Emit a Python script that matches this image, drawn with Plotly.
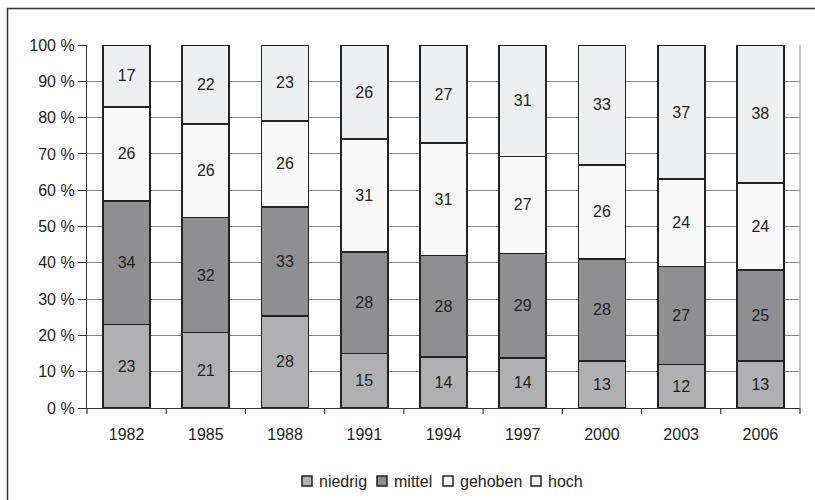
import plotly.graph_objects as go

years = ["1982", "1985", "1988", "1991", "1994", "1997", "2000", "2003", "2006"]
niedrig = [23, 21, 28, 15, 14, 14, 13, 12, 13]
mittel = [34, 32, 33, 28, 28, 29, 28, 27, 25]
gehoben = [26, 26, 26, 31, 31, 27, 26, 24, 24]
hoch = [17, 22, 23, 26, 27, 31, 33, 37, 38]

names = ["niedrig", "mittel", "gehoben", "hoch"]
values = [niedrig, mittel, gehoben, hoch]
colors = ["#b0b0b3", "#8f8f92", "#f8f8f8", "#eeeff1"]

W, H = 815, 500
L, R, T, B = 87, 15, 45, 92
PW, PH = W - L - R, H - T - B


def px_x(p):
    return (p - L) / PW


def px_y(p):
    return (H - B - p) / PH


FONT = "Liberation Sans, Arial, sans-serif"

fig = go.Figure()
for name, vals, col in zip(names, values, colors):
    fig.add_trace(go.Bar(
        x=years, y=vals, name=name, text=vals, texttemplate="%{text}",
        textposition="inside", insidetextanchor="middle", textangle=0,
        textfont=dict(size=16, color="#222222", family=FONT),
        marker=dict(color=col, line=dict(color="#222222", width=1.8)),
        constraintext="none", showlegend=False,
    ))

shapes = [
    dict(type="line", xref="paper", yref="paper", x0=1, x1=1, y0=0, y1=1,
         line=dict(color="#a0a0a0", width=1.2)),
    dict(type="rect", xref="paper", yref="paper", x0=px_x(7.5), x1=px_x(830),
         y0=px_y(520), y1=px_y(8.5), line=dict(color="#333333", width=1.5),
         layer="below"),
]
# category-boundary tick marks on the x axis (paper coords: axis range is [-0.5, n-0.5])
n = len(years)
for i in range(n + 1):
    shapes.append(dict(type="line", xref="paper", yref="paper", x0=i / n, x1=i / n,
                       y0=0, y1=px_y(414), line=dict(color="#333333", width=1.2)))

annotations = []
# manual legend (symbol square + label)
sym_x = [302, 377, 443, 531]
ly = 481
for name, col, sx in zip(names, colors, sym_x):
    shapes.append(dict(type="rect", xref="paper", yref="paper",
                       x0=px_x(sx), x1=px_x(sx + 10), y0=px_y(ly + 5), y1=px_y(ly - 5),
                       fillcolor=col, line=dict(color="#222222", width=1.5)))
    annotations.append(dict(xref="paper", yref="paper", x=px_x(sx + 15), y=px_y(ly),
                            xanchor="left", yanchor="middle", text=name, showarrow=False,
                            font=dict(size=16, color="#222222", family=FONT)))

fig.update_layout(
    width=W, height=H,
    barmode="stack", barnorm="percent", bargap=0.407,
    margin=dict(l=L, r=R, t=T, b=B, autoexpand=False),
    paper_bgcolor="white", plot_bgcolor="white",
    font=dict(family=FONT, size=16, color="#222222"),
    uniformtext=dict(minsize=8, mode="show"),
    showlegend=False,
    hovermode=False,
    xaxis=dict(showline=True, linecolor="#333333", linewidth=1.2, ticks="",
               tickfont=dict(size=16), showgrid=False, ticklabelstandoff=12,
               range=[-0.5, n - 0.5]),
    yaxis=dict(range=[0, 100], dtick=10, ticksuffix=" %", showline=True,
               linecolor="#333333", linewidth=1.2, ticks="outside", ticklen=8,
               tickcolor="#333333", gridcolor="#858585", gridwidth=1,
               tickfont=dict(size=16), zeroline=False),
    shapes=shapes,
    annotations=annotations,
)

fig.write_html("out.html", config={"displayModeBar": False},
               post_script="document.body.style.margin='0px';")
